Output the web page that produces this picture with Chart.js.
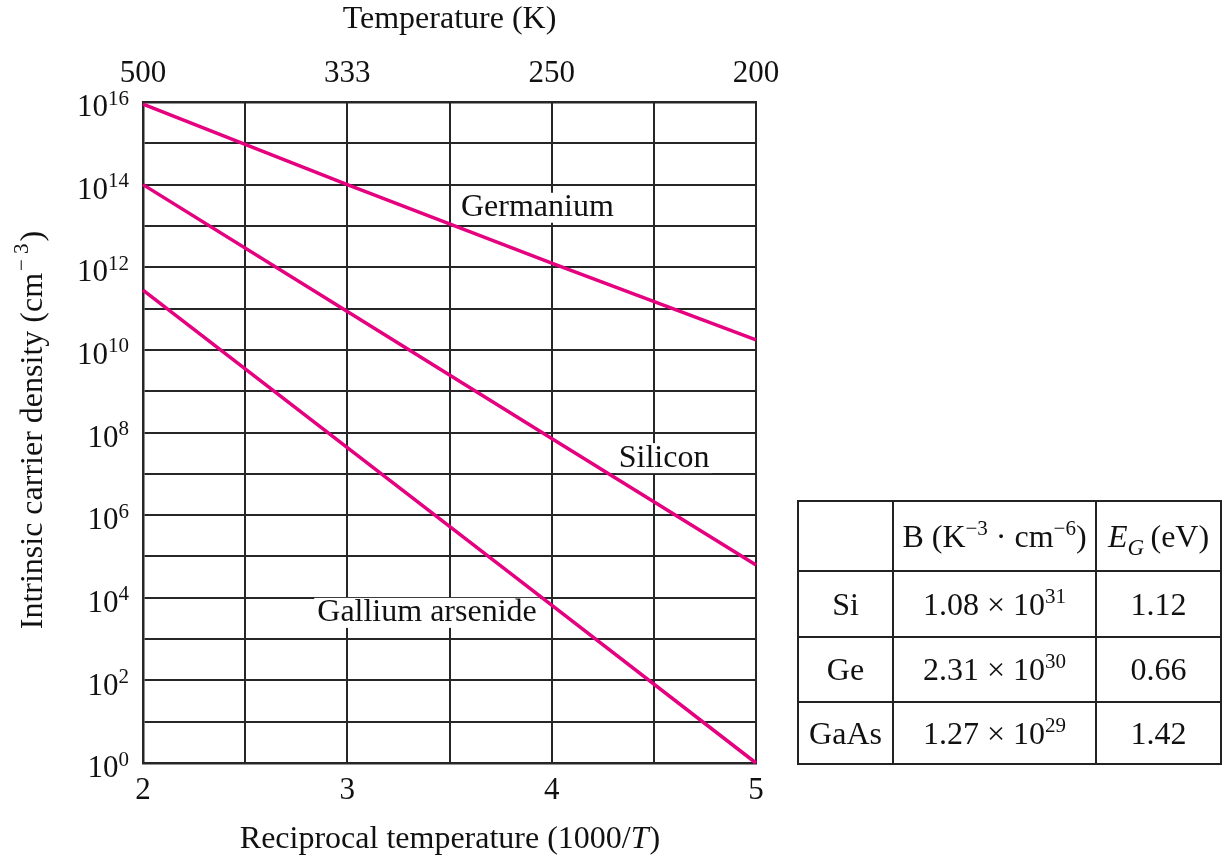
<!DOCTYPE html>
<html>
<head>
<meta charset="utf-8">
<script src="https://cdn.jsdelivr.net/npm/chart.js@4"></script>
<style>
  html, body { margin: 0; padding: 0; background: #fff; }
  #wrap { position: relative; width: 1229px; height: 858px; }
  #chart { position: absolute; left: 0; top: 0; }
  #params {
    position: absolute; left: 797px; top: 500px;
    border-collapse: collapse;
    font-family: "Liberation Serif", "Times New Roman", serif;
    font-size: 32px; color: #111;
  }
  #params td { border: 2px solid #222; text-align: center; padding: 0; white-space: nowrap; }
  #params sup { font-size: 21px; vertical-align: 12px; line-height: 0; }
  #params sub { font-size: 23px; vertical-align: -8px; line-height: 0; }
</style>
</head>
<body>
<div id="wrap">
  <canvas id="chart" width="1229" height="858"></canvas>
  <table id="params">
    <tr style="height:70px">
      <td style="width:93px"></td>
      <td style="width:201px">B (K<sup>&minus;3</sup> &middot; cm<sup>&minus;6</sup>)</td>
      <td style="width:123px"><i>E<sub>G</sub></i>&thinsp;(eV)</td>
    </tr>
    <tr style="height:66px"><td>Si</td><td>1.08 &times; 10<sup>31</sup></td><td>1.12</td></tr>
    <tr style="height:65px"><td>Ge</td><td>2.31 &times; 10<sup>30</sup></td><td>0.66</td></tr>
    <tr style="height:62px"><td>GaAs</td><td>1.27 &times; 10<sup>29</sup></td><td>1.42</td></tr>
  </table>
</div>
<script>
// reciprocal temperature 1000/T
const recipT = [2, 3, 4, 5];
const tempLabels = ["500", "333", "250", "200"];

// intrinsic carrier density (cm^-3)
const germanium = [8.9e15, 1.0e14, 1.26e12, 1.74e10];
const silicon = [1.0e14, 8.5e10, 7.2e7, 6.2e4];
const galliumArsenide = [2.8e11, 4.3e7, 6.6e3, 1];

const seriesNames = ["Germanium", "Silicon", "Gallium arsenide"];
const labelX = [3.93, 4.55, 3.39];
const labelY = [2.75e13, 2.4e7, 4.3e3];

const decades = [0, 1, 2, 3, 4, 5, 6, 7, 8, 9, 10, 11, 12, 13, 14, 15, 16];

const serif = "'Liberation Serif', 'Times New Roman', serif";
const ink = "#111";
const gridColor = "#262626";
const magenta = "#e4007f";

function toPoints(values) {
  return recipT.map((x, i) => ({ x: x, y: values[i] }));
}

function drawSupLabel(ctx, base, sup, right, y) {
  ctx.font = "21px " + serif;
  const supW = ctx.measureText(sup).width;
  ctx.textAlign = "left";
  ctx.textBaseline = "middle";
  ctx.fillText(sup, right - supW, y - 3);
  ctx.font = "31px " + serif;
  ctx.textAlign = "right";
  ctx.fillText(base, right - supW, y + 6);
}

const textPlugin = {
  id: "extraText",
  afterDraw(chart) {
    const ctx = chart.ctx;
    const xs = chart.scales.x;
    const ys = chart.scales.y;
    ctx.save();
    ctx.fillStyle = ink;

    // y tick labels as powers of ten
    decades.filter((d) => d % 2 === 0).forEach((d) => {
      drawSupLabel(ctx, "10", String(d), 129, ys.getPixelForValue(Math.pow(10, d)));
    });

    // curve names
    ctx.font = "32px " + serif;
    ctx.textAlign = "center";
    ctx.textBaseline = "middle";
    seriesNames.forEach((name, i) => {
      const px = xs.getPixelForValue(labelX[i]);
      const py = ys.getPixelForValue(labelY[i]);
      const w = ctx.measureText(name).width;
      ctx.fillStyle = "#fff";
      ctx.fillRect(px - w / 2 - 3, py - 15, w + 6, 30);
      ctx.fillStyle = ink;
      ctx.fillText(name, px, py);
    });

    // bottom axis title with italic T
    const partA = "Reciprocal temperature (1000/";
    const partB = "T";
    const partC = ")";
    ctx.font = "32px " + serif;
    const wA = ctx.measureText(partA).width;
    const wC = ctx.measureText(partC).width;
    ctx.font = "italic 32px " + serif;
    const wB = ctx.measureText(partB).width;
    let x0 = (xs.left + xs.right) / 2 - (wA + wB + wC) / 2;
    const yb = 840;
    ctx.textAlign = "left";
    ctx.font = "32px " + serif;
    ctx.fillText(partA, x0, yb);
    ctx.font = "italic 32px " + serif;
    ctx.fillText(partB, x0 + wA, yb);
    ctx.font = "32px " + serif;
    ctx.fillText(partC, x0 + wA + wB + 1, yb);

    // y axis title
    ctx.translate(30, 430);
    ctx.rotate(-Math.PI / 2);
    const t1 = "Intrinsic carrier density (cm";
    const t2 = "\u2212 3";
    const t3 = ")";
    ctx.font = "32px " + serif;
    const w1 = ctx.measureText(t1).width;
    const w3 = ctx.measureText(t3).width;
    ctx.font = "21px " + serif;
    const w2 = ctx.measureText(t2).width;
    let sx = -(w1 + w2 + w3 + 4) / 2;
    ctx.font = "32px " + serif;
    ctx.fillText(t1, sx, 4);
    ctx.font = "21px " + serif;
    ctx.fillText(t2, sx + w1 + 2, -8);
    ctx.font = "32px " + serif;
    ctx.fillText(t3, sx + w1 + w2 + 4, 4);
    ctx.restore();
  },
};

const lineStyle = {
  borderColor: magenta,
  backgroundColor: magenta,
  borderWidth: 3.5,
  pointRadius: 0,
  showLine: true,
  tension: 0,
};

new Chart(document.getElementById("chart"), {
  type: "scatter",
  data: {
    datasets: [
      { label: seriesNames[0], data: toPoints(germanium), ...lineStyle },
      { label: seriesNames[1], data: toPoints(silicon), ...lineStyle },
      { label: seriesNames[2], data: toPoints(galliumArsenide), ...lineStyle },
    ],
  },
  options: {
    responsive: false,
    animation: false,
    clip: false,
    layout: { padding: { left: 0, right: 473, top: 0, bottom: 0 } },
    plugins: { legend: { display: false }, tooltip: { enabled: false } },
    scales: {
      x: {
        type: "linear",
        position: "bottom",
        min: 2,
        max: 5,
        ticks: {
          stepSize: 0.5,
          color: ink,
          font: { family: serif, size: 31 },
          padding: 9,
          maxRotation: 0,
          callback: (v) => (Number.isInteger(v) ? String(v) : ""),
        },
        grid: { color: gridColor, lineWidth: 2, drawTicks: false },
        border: { color: gridColor, width: 2.5 },
        afterFit: (s) => { s.height = 95; },
      },
      x2: {
        type: "linear",
        position: "top",
        min: 2,
        max: 5,
        ticks: {
          stepSize: 1,
          color: ink,
          font: { family: serif, size: 31 },
          padding: 10,
          maxRotation: 0,
          callback: (v) => {
            const i = recipT.indexOf(v);
            return i >= 0 ? tempLabels[i] : "";
          },
        },
        grid: { display: false, drawTicks: false },
        border: { color: gridColor, width: 2.5 },
        title: {
          display: true,
          text: "Temperature (K)",
          color: ink,
          font: { family: serif, size: 32 },
          padding: { top: 0, bottom: 0 },
        },
        afterFit: (s) => { s.height = 102; },
      },
      y: {
        type: "logarithmic",
        min: 1,
        max: 1e16,
        afterBuildTicks: (s) => {
          s.ticks = decades.map((d) => ({ value: Math.pow(10, d) }));
        },
        ticks: { display: false },
        grid: { color: gridColor, lineWidth: 2, drawTicks: false },
        border: { color: gridColor, width: 2.5 },
        afterFit: (s) => { s.width = 143; },
      },
    },
  },
  plugins: [textPlugin],
});
</script>
</body>
</html>
